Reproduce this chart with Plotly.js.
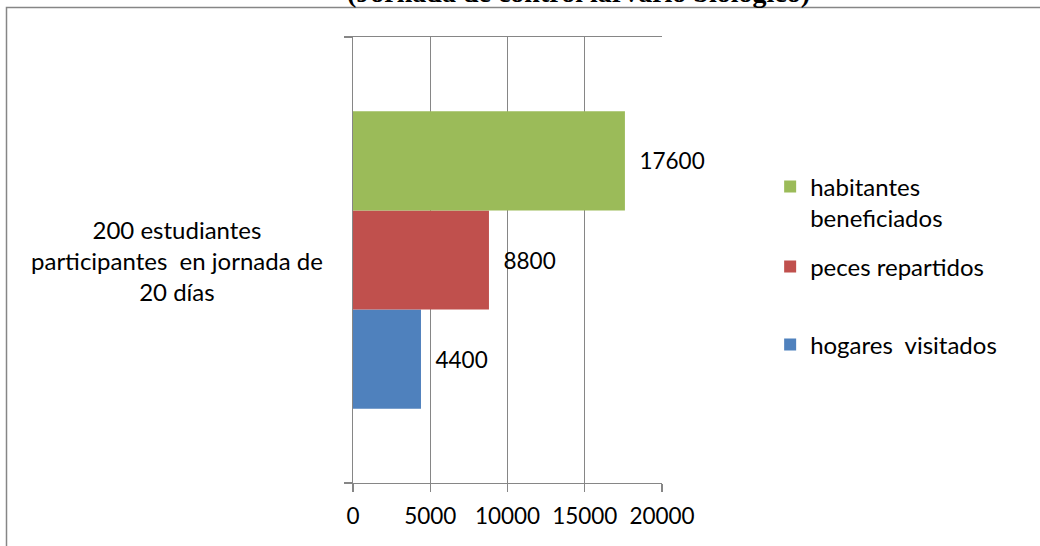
<!DOCTYPE html>
<html>
<head>
<meta charset="utf-8">
<script src="https://cdn.plot.ly/plotly-3.0.1.min.js"></script>
<style>
  html, body { margin: 0; padding: 0; background: #fff; }
  #chart { width: 1040px; height: 546px; }
</style>
</head>
<body>
<div id="chart"></div>
<script>
// ---- data ----
const category = "200 estudiantes<br>participantes  en jornada de<br>20 días";
const seriesNames = ["hogares  visitados", "peces repartidos", "habitantes<br>beneficiados"];
const seriesValues = [4400, 8800, 17600];
const seriesColors = ["#4F81BD", "#C0504D", "#9BBB59"];
const xTickVals = [0, 5000, 10000, 15000, 20000];
const titleText = "(Jornada de control larvario biológico)";

const gray = "#868686";
const numFont = { family: "Lato, 'Open Sans', sans-serif", size: 22.5, color: "#000" };
const textFont = { family: "Lato, 'Open Sans', sans-serif", size: 24, color: "#000" };
const legendIds = ["legend", "legend2", "legend3"];

const traces = seriesValues.map((v, i) => ({
  type: "bar",
  orientation: "h",
  name: seriesNames[i],
  y: [category],
  x: [v],
  marker: { color: seriesColors[i], line: { width: 0 } },
  text: [String(v)],
  texttemplate: "\u00a0\u00a0%{text}",
  textposition: "outside",
  textfont: numFont,
  cliponaxis: false,
  hoverinfo: "x+name",
  legend: legendIds[i]
}));

const legendBase = {
  xref: "paper", yref: "paper", xanchor: "left", yanchor: "top",
  font: textFont, bgcolor: "rgba(0,0,0,0)", borderwidth: 0, valign: "top"
};

const layout = {
  width: 1040, height: 546,
  margin: { l: 353, r: 378, t: 37, b: 63, pad: 0 },
  paper_bgcolor: "#fff", plot_bgcolor: "#fff",
  font: textFont,
  barmode: "group",
  bargap: 1/3,
  bargroupgap: 0,
  showlegend: true,
  legend: Object.assign({}, legendBase, { x: 1.35, y: 0.36 }),
  legend2: Object.assign({}, legendBase, { x: 1.35, y: 0.5348 }),
  legend3: Object.assign({}, legendBase, { x: 1.35, y: 0.7145 }),
  xaxis: {
    range: [0, 20000],
    tickvals: xTickVals,
    ticktext: xTickVals.map(String),
    ticks: "outside", ticklen: 8, tickwidth: 1.3, tickcolor: gray,
    ticklabelstandoff: 5,
    showgrid: true, gridcolor: gray, gridwidth: 1.3,
    showline: true, linecolor: gray, linewidth: 1.3, mirror: true,
    zeroline: false,
    tickfont: numFont,
    fixedrange: true
  },
  yaxis: {
    type: "category",
    range: [-0.5, 0.5],
    tickson: "boundaries",
    ticks: "outside", ticklen: 8, tickwidth: 1.3, tickcolor: gray,
    showticklabels: false,
    showgrid: false,
    showline: true, linecolor: gray, linewidth: 1.3,
    zeroline: false,
    fixedrange: true
  },
  annotations: [
    {
      text: category,
      xref: "paper", yref: "y", x: -0.5706, y: category,
      xanchor: "center", yanchor: "middle", align: "center",
      showarrow: false, font: textFont
    },
    {
      text: "<b>" + titleText + "</b>",
      xref: "paper", yref: "paper", x: (578.5 - 353) / 309, y: 1.0605,
      xanchor: "center", yanchor: "bottom", showarrow: false,
      font: { family: "'Liberation Serif', 'Times New Roman', serif", size: 28, color: "#000" }
    }
  ],
  shapes: [
    {
      type: "rect", xref: "paper", yref: "paper",
      x0: (6.5 - 353) / 309, x1: (1060 - 353) / 309,
      y0: (483 - 560) / 446, y1: (483 - 7.5) / 446,
      line: { color: gray, width: 1.5 }, fillcolor: "rgba(0,0,0,0)", layer: "below"
    }
  ]
};

Plotly.newPlot("chart", traces, layout, { displayModeBar: false, staticPlot: true });
</script>
</body>
</html>
